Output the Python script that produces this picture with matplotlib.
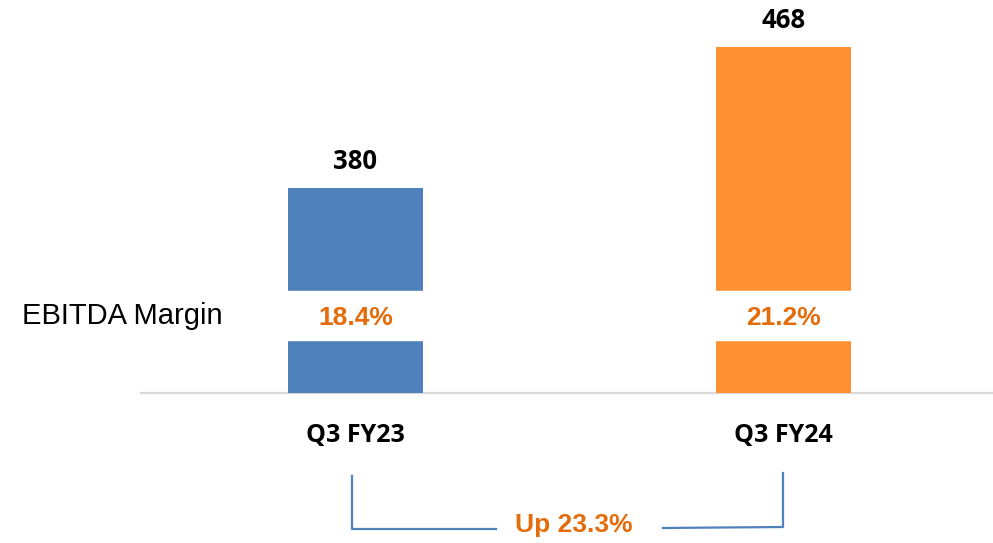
import matplotlib
matplotlib.use("Agg")
import matplotlib.pyplot as plt
from matplotlib.transforms import blended_transform_factory
from matplotlib.lines import Line2D

categories = ["Q3 FY23", "Q3 FY24"]
ebitda = [380, 468]
margins = ["18.4%", "21.2%"]
growth_label = "Up 23.3%"
bar_colors = ["#4F81BD", "#FF9033"]
orange_text = "#E46C0A"

W, H = 993, 543
fig = plt.figure(figsize=(W / 100, H / 100), dpi=100)
fig.patch.set_facecolor("white")

# axes area in pixels
ax_left, ax_right, ax_bottom_px, ax_top_px = 141, 993, 393, 0
ax = fig.add_axes([ax_left / W, (H - ax_bottom_px) / H,
                   (ax_right - ax_left) / W, (ax_bottom_px - ax_top_px) / H])

x = list(range(len(categories)))
ax.bar(x, ebitda, width=0.315, color=bar_colors, zorder=2)
ax.set_ylim(252.1, 497.4)
ax.set_xlim(-0.501, 1.489)

for s in ["top", "right", "left"]:
    ax.spines[s].set_visible(False)
ax.spines["bottom"].set_color("#D9D9D9")
ax.spines["bottom"].set_linewidth(1.6)
ax.spines["bottom"].set_zorder(1)
ax.set_yticks([])
ax.set_xticks([])

# value labels
for xi, v in zip(x, ebitda):
    ax.annotate(f"{v}", (xi, v), xytext=(0, 27), textcoords="offset pixels",
                ha="center", va="center", fontsize=18.5, fontweight="bold",
                family="Open Sans", color="black")

# white band for margin
y0, y1 = ax.get_ylim()
band_lo = (393 - 340) / 393
band_hi = (393 - 291) / 393
ax.axhspan(y0 + band_lo * (y1 - y0), y0 + band_hi * (y1 - y0),
           color="white", zorder=3)

trans = blended_transform_factory(ax.transData, ax.transAxes)
ymid = (393 - 318) / 393
for xi, m in zip(x, margins):
    ax.text(xi, ymid, m, transform=trans, ha="center", va="center",
            fontsize=19, fontweight="bold", family="Liberation Sans",
            color=orange_text, zorder=4)

# category labels
for xi, c in zip(x, categories):
    ax.text(xi, -(436 - 393) / 393, c, transform=trans, ha="center", va="center",
            fontsize=18, fontweight="bold", family="Open Sans", color="black")

fig.text(22 / W, 1 - 316 / H, "EBITDA Margin", ha="left", va="center",
         fontsize=21, family="Liberation Sans", color="black")

# bracket
def fx(px):
    return px / W

def fy(py):
    return 1 - py / H

bc = "#4F81BD"
fig.add_artist(Line2D([fx(352), fx(352), fx(496)], [fy(476), fy(529), fy(529)],
                      color=bc, lw=1.6))
fig.add_artist(Line2D([fx(663), fx(783), fx(783)], [fy(528), fy(527), fy(473)],
                      color=bc, lw=1.6))
fig.text(fx(574), fy(525), growth_label, ha="center", va="center",
         fontsize=19, fontweight="bold", family="Liberation Sans", color=orange_text)

fig.savefig("out.png", dpi=100, facecolor="white")
